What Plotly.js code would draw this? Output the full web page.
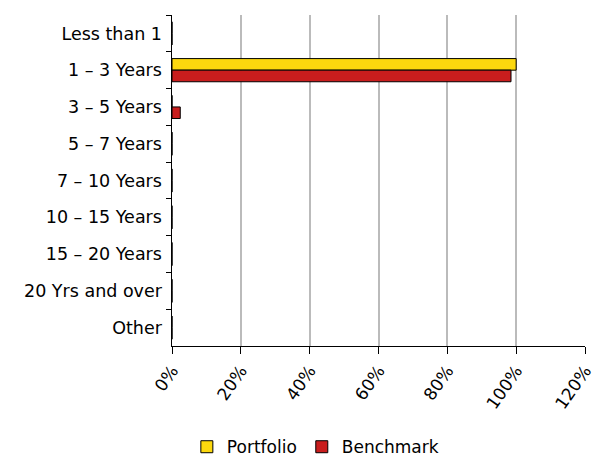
<!DOCTYPE html>
<html>
<head>
<meta charset="utf-8">
<script src="https://cdn.plot.ly/plotly-3.0.1.min.js"></script>
<style>
  html, body { margin: 0; padding: 0; background: #fff; }
  #chart { width: 595px; height: 461px; }
</style>
</head>
<body>
<div id="chart"></div>
<script>
const categories = ["Less than 1", "1 \u2013 3 Years", "3 \u2013 5 Years", "5 \u2013 7 Years", "7 \u2013 10 Years", "10 \u2013 15 Years", "15 \u2013 20 Years", "20 Yrs and over", "Other"];
const portfolio = [0, 100, 0, 0, 0, 0, 0, 0, 0];
const benchmark = [0, 98.5, 2.4, 0, 0, 0, 0, 0, 0];
const xTickVals = [0, 20, 40, 60, 80, 100, 120];
const xTickText = ["0%", "20%", "40%", "60%", "80%", "100%", "120%"];

const fontFam = "DejaVu Sans, Verdana, sans-serif";

const traces = [
  {
    type: "bar", orientation: "h", name: "Portfolio",
    y: categories, x: portfolio,
    marker: { color: "#FCD80E", line: { color: "#000", width: 1 } }
  },
  {
    type: "bar", orientation: "h", name: "Benchmark",
    y: categories, x: benchmark,
    marker: { color: "#C91D1D", line: { color: "#000", width: 1 } }
  }
];

const layout = {
  width: 595, height: 461,
  margin: { l: 172, r: 10, t: 15, b: 115, autoexpand: false },
  paper_bgcolor: "#fff", plot_bgcolor: "#fff",
  barmode: "group", bargap: 0.37, bargroupgap: 0,
  font: { family: fontFam, size: 17, color: "#000" },
  showlegend: true,
  legend: {
    orientation: "h",
    xref: "container", x: 0.53, xanchor: "center",
    yref: "container", y: 0.03, yanchor: "middle",
    font: { family: fontFam, size: 17, color: "#000" },
    itemwidth: 30, tracegroupgap: 0,
    traceorder: "normal"
  },
  xaxis: {
    range: [0, 120], automargin: false,
    tickmode: "array", tickvals: xTickVals, ticktext: xTickText,
    tickangle: -55, ticklabeloverflow: "allow",
    showgrid: true, gridcolor: "#BBBBBB", gridwidth: 2,
    zeroline: false,
    showline: true, linecolor: "#000", linewidth: 1,
    ticks: "outside", ticklen: 7, tickcolor: "#000",
    tickfont: { family: fontFam, size: 17, color: "#000" },
    fixedrange: true
  },
  yaxis: {
    type: "category", autorange: "reversed", automargin: false,
    showline: true, linecolor: "#000", linewidth: 1,
    ticks: "outside", ticklen: 5, tickcolor: "#000", tickson: "boundaries",
    showgrid: false,
    tickfont: { family: fontFam, size: 17.5, color: "#000" },
    ticksuffix: " ",
    fixedrange: true
  }
};

Plotly.newPlot("chart", traces, layout, { displayModeBar: false, staticPlot: true });
</script>
</body>
</html>
